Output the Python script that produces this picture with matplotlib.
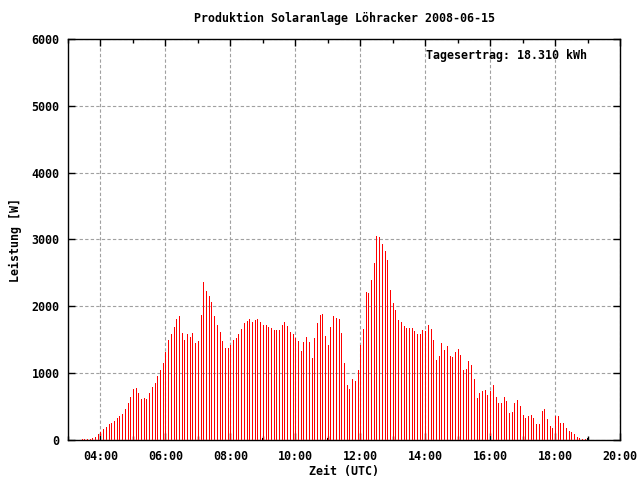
import matplotlib
matplotlib.use('Agg')
import matplotlib.pyplot as plt
import numpy as np

# ---- data ----
start_time = "03:25"
interval_min = 5
power_w = [
    15, 15, 15, 15, 35, 50, 95,                      # 03:25-03:55
    125, 170, 200, 245, 260, 290, 335, 365, 395, 470, 560, 650,   # 04:00-04:55
    770, 785, 710, 615, 635, 615, 705, 795, 855, 960, 1050, 1155, # 05:00-05:55
    1320, 1500, 1590, 1695, 1815, 1860, 1605, 1500, 1590, 1545, 1605, 1455,  # 06
    1485, 1875, 2370, 2235, 2160, 2070, 1860, 1725, 1620, 1485, 1380, 1380,  # 07
    1425, 1500, 1530, 1590, 1665, 1755, 1785, 1815, 1770, 1800, 1815, 1770,  # 08
    1725, 1725, 1695, 1680, 1650, 1650, 1650, 1725, 1770, 1710, 1620, 1590,  # 09
    1530, 1485, 1335, 1470, 1545, 1470, 1230, 1530, 1755, 1875, 1890, 1560,  # 10
    1425, 1695, 1860, 1830, 1815, 1605, 1155, 825, 765, 915, 885, 1050,      # 11
    1425, 1665, 2220, 2205, 2400, 2655, 3045, 3030, 2940, 2835, 2700, 2250,  # 12
    2055, 1950, 1800, 1770, 1710, 1680, 1680, 1680, 1635, 1590, 1590, 1650,  # 13
    1635, 1725, 1665, 1500, 1200, 1260, 1455, 1350, 1410, 1260, 1245, 1320,  # 14
    1365, 1275, 1050, 1065, 1185, 1125, 915, 630, 705, 735, 750, 675,        # 15
    735, 825, 645, 555, 555, 645, 585, 405, 420, 555, 600, 510,              # 16
    375, 330, 360, 375, 330, 240, 240, 435, 465, 315, 210, 180,              # 17
    360, 360, 255, 255, 180, 135, 120, 90, 45, 30, 15, 15,                   # 18
]
marker_times = ["03:59", "08:59", "10:59", "15:59", "18:59"]
marker_w = [65, 30, 30, 60, 30]

x_tick_hours = list(range(4, 21, 2))
x_tick_labels = [f"{h:02d}:00" for h in x_tick_hours]
y_ticks = list(range(0, 6001, 1000))

title = "Produktion Solaranlage Löhracker 2008-06-15"
annotation = "Tagesertrag: 18.310 kWh"


def to_hours(s):
    h, m = s.split(":")
    return int(h) + int(m) / 60.0


t0 = to_hours(start_time)
times = t0 + np.arange(len(power_w)) * interval_min / 60.0
mtimes = [to_hours(s) for s in marker_times]

font = dict(family="DejaVu Sans Mono", weight="bold", size=8.4)
plt.rcParams['font.family'] = 'DejaVu Sans Mono'
plt.rcParams['font.weight'] = 'bold'
plt.rcParams['font.size'] = 8.4

fig = plt.figure(figsize=(6.4, 4.8), dpi=100)
ax = fig.add_axes([68 / 640, 40 / 480, 552 / 640, 401 / 480])

ax.vlines(times, 0, power_w, colors="#ff0000", linewidth=0.72, antialiased=False, zorder=3)
ax.vlines(mtimes, 0, marker_w, colors="black", linewidth=0.72, antialiased=False, zorder=4)

ax.set_xlim(3, 20)
ax.set_ylim(0, 6000)
ax.set_xticks(x_tick_hours)
ax.set_xticklabels(x_tick_labels)
ax.set_xticks(list(range(3, 21, 2)), minor=True)
ax.set_yticks(y_ticks)

ax.tick_params(which="major", direction="in", top=True, right=True, length=5, width=1.0,
               labelsize=8.4)
ax.tick_params(axis="x", which="major", pad=7)
ax.tick_params(axis="y", which="major", pad=6)
ax.tick_params(which="minor", direction="in", top=True, length=3, width=1.0)
for lab in ax.get_xticklabels() + ax.get_yticklabels():
    lab.set_fontweight("bold")

ax.grid(True, which="major", color="#a0a0a0", linestyle=(0, (3, 2)), linewidth=0.8)
ax.set_axisbelow(True)
for sp in ax.spines.values():
    sp.set_linewidth(1.0)
    sp.set_color("black")

fig.text(344 / 640, 1 - 18 / 480, title, ha="center", va="center", **font)
fig.text(344 / 640, 1 - 472 / 480, "Zeit (UTC)", ha="center", va="center", **font)
fig.text(15 / 640, 1 - 240 / 480, "Leistung [W]", ha="center", va="center",
         rotation=90, **font)
ax.text((426 - 68) / 552, (440 - 56) / 401, annotation, transform=ax.transAxes,
        ha="left", va="center", **font)

fig.savefig("out.png", dpi=100)
